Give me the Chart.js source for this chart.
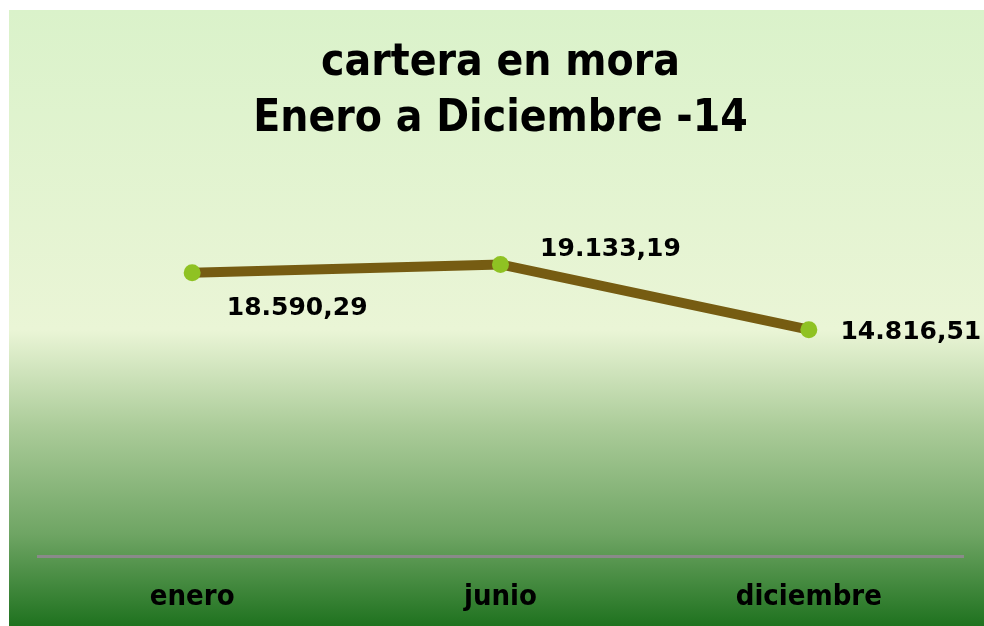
<!DOCTYPE html>
<html>
<head>
<meta charset="utf-8">
<script src="https://cdn.jsdelivr.net/npm/chart.js@4.4.1/dist/chart.umd.min.js"></script>
<style>
  body { margin: 0; background: #fff; }
  #panel {
    position: absolute; left: 9px; top: 10px; width: 975px; height: 616px;
    background: linear-gradient(to bottom, #daf2ca 0%, #eaf5d6 52%, #aacb98 68%, #6fa564 85%, #1f721f 100%);
  }
</style>
</head>
<body>
<div id="panel"><canvas id="moraChart" width="975" height="616"></canvas></div>
<script>
const months = ["enero", "junio", "diciembre"];
const carteraMora = [18590.29, 19133.19, 14816.51];
const titleLines = ["cartera en mora", "Enero a Diciembre -14"];

// offsets of the value labels relative to each point
const labelOffsets = [[105, 36], [110, -15], [102, 3]];

function formatValue(v) {
    const parts = v.toFixed(2).split(".");
    return parts[0].replace(/\B(?=(\d{3})+(?!\d))/g, ".") + "," + parts[1];
}

const valueLabels = {
    id: "valueLabels",
    afterDatasetsDraw(chart) {
        const ctx = chart.ctx;
        const meta = chart.getDatasetMeta(0);
        ctx.save();
        ctx.font = "bold 25px 'DejaVu Sans'";
        ctx.fillStyle = "#000";
        ctx.textAlign = "center";
        ctx.textBaseline = "middle";
        meta.data.forEach((pt, i) => {
            const off = labelOffsets[i];
            ctx.fillText(formatValue(carteraMora[i]), pt.x + off[0], pt.y + off[1]);
        });
        ctx.restore();
    }
};

const ctx = document.getElementById("moraChart").getContext("2d");
new Chart(ctx, {
    type: "line",
    data: {
        labels: months,
        datasets: [{
            label: "cartera en mora",
            data: carteraMora,
            borderColor: "#765c12",
            borderWidth: 10,
            pointBackgroundColor: "#8fc223",
            pointBorderWidth: 0,
            pointRadius: 8.5,
            tension: 0
        }]
    },
    options: {
        responsive: false,
        animation: false,
        layout: { padding: { left: 29, right: 21, top: 0, bottom: -13 } },
        plugins: {
            legend: { display: false },
            tooltip: { enabled: false },
            title: {
                display: true,
                text: titleLines,
                color: "#000",
                font: { family: "'DejaVu Sans Condensed', 'DejaVu Sans'", size: 44, weight: "bold", lineHeight: 1.27 },
                padding: { top: 26, bottom: 28 }
            }
        },
        scales: {
            x: {
                offset: true,
                grid: { display: false, drawTicks: false },
                border: { color: "#8a8a8a", width: 3 },
                ticks: {
                    color: "#000",
                    padding: 24,
                    font: { family: "'DejaVu Sans Condensed', 'DejaVu Sans'", size: 29, weight: "bold" }
                }
            },
            y: {
                display: false,
                min: -170,
                max: 25000
            }
        }
    },
    plugins: [valueLabels]
});
</script>
</body>
</html>
